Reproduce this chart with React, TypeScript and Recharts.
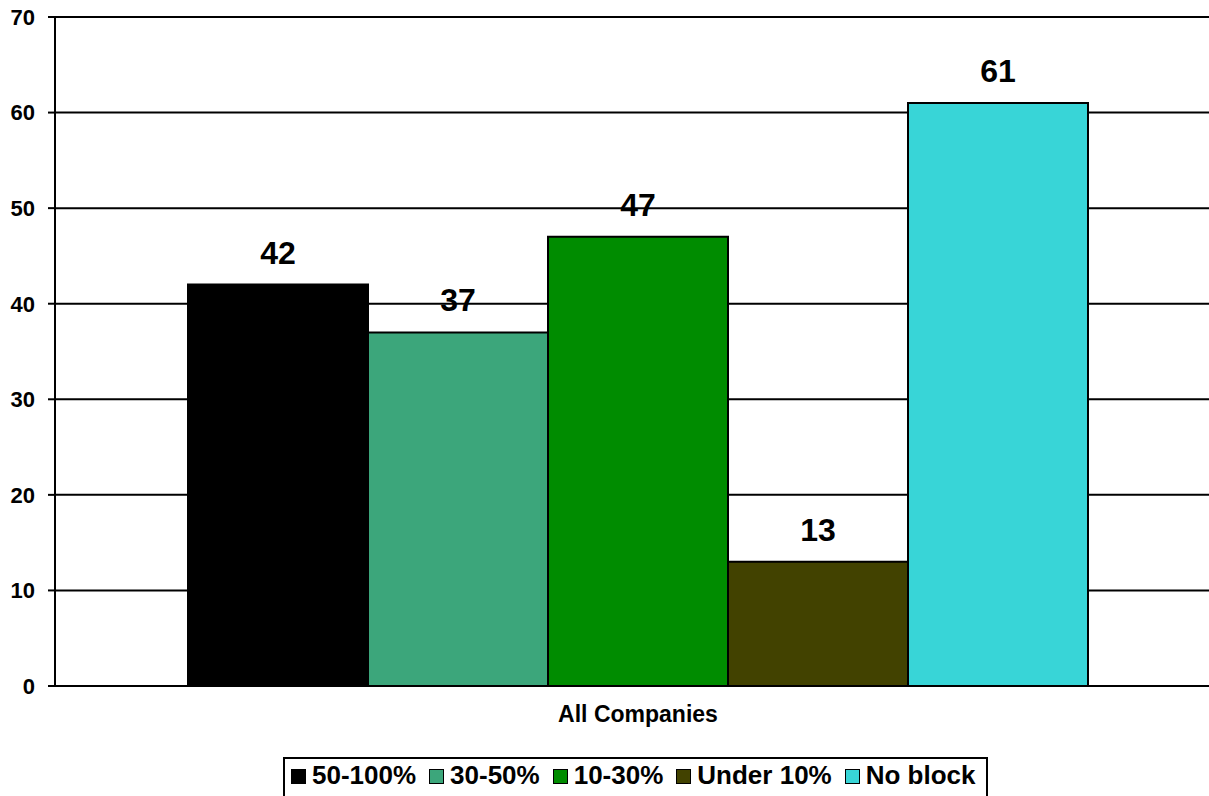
import React from 'react';
import { BarChart, Bar, XAxis, YAxis, CartesianGrid, LabelList, Legend } from 'recharts';

// Share of companies by size of largest voting block
const categories = ['All Companies'];
const seriesNames = ['50-100%', '30-50%', '10-30%', 'Under 10%', 'No block'];
const seriesValues = [42, 37, 47, 13, 61];
const seriesColors = ['#000000', '#3CA67B', '#008C00', '#424200', '#38D5D7'];
const yTicks = [0, 10, 20, 30, 40, 50, 60, 70];

const FONT = '"Liberation Sans", Arial, Helvetica, sans-serif';

const data = categories.map((name) => {
  const row: Record<string, string | number> = { name };
  seriesNames.forEach((s, i) => {
    row[s] = seriesValues[i];
  });
  return row;
});

const LegendBox = (props: any) => {
  const payload = [...(props.payload || [])].sort(
    (a: any, b: any) => seriesNames.indexOf(a.value) - seriesNames.indexOf(b.value)
  );
  return (
    <div
      style={{
        display: 'flex',
        alignItems: 'center',
        border: '2px solid #000',
        height: 44,
        boxSizing: 'border-box',
        padding: '0 10px 8px 6px',
        background: '#fff',
        fontFamily: FONT,
        fontWeight: 'bold',
        fontSize: 26,
        lineHeight: '30px',
        color: '#000',
        whiteSpace: 'nowrap',
      }}
    >
      {payload.map((entry: any, i: number) => (
        <span key={entry.value} style={{ display: 'flex', alignItems: 'center', marginLeft: i === 0 ? 0 : 13 }}>
          <span
            style={{
              display: 'inline-block',
              width: 15,
              height: 15,
              boxSizing: 'border-box',
              border: '1.5px solid #000',
              background: entry.color,
              marginRight: 6,
              marginTop: 3,
            }}
          />
          <span>{entry.value}</span>
        </span>
      ))}
    </div>
  );
};

export default function App() {
  return (
    <div style={{ position: 'absolute', left: 0, top: 0, width: 1209, height: 796, overflow: 'hidden', background: '#fff' }}>
      <BarChart
        width={1221}
        height={796}
        data={data}
        margin={{ top: 17, right: 0, left: 0, bottom: 80 }}
        barCategoryGap={133}
        barGap={0}
      >
        <CartesianGrid vertical={false} stroke="#000" strokeWidth={2} />
        <XAxis
          dataKey="name"
          height={30}
          axisLine={{ stroke: '#000', strokeWidth: 2 }}
          tickLine={false}
          tickSize={0}
          tickMargin={20}
          tick={{ fill: '#000', fontSize: 23, fontWeight: 'bold', fontFamily: FONT }}
        />
        <YAxis
          width={55}
          domain={[0, 70]}
          ticks={yTicks}
          interval={0}
          axisLine={{ stroke: '#000', strokeWidth: 2 }}
          tickLine={{ stroke: '#000', strokeWidth: 2 }}
          tickSize={7}
          tickMargin={13}
          tick={{ fill: '#000', fontSize: 22, fontWeight: 'bold', fontFamily: FONT }}
        />
        <Legend
          layout="horizontal"
          verticalAlign="middle"
          align="center"
          content={<LegendBox />}
          wrapperStyle={{ left: 283, top: 757, width: 'auto' }}
        />
        {seriesNames.map((s, i) => (
          <Bar key={s} dataKey={s} fill={seriesColors[i]} stroke="#000" strokeWidth={2} isAnimationActive={false}>
            <LabelList
              dataKey={s}
              position="top"
              offset={21}
              fill="#000"
              fontSize={32}
              fontWeight="bold"
              fontFamily={FONT}
            />
          </Bar>
        ))}
      </BarChart>
    </div>
  );
}
